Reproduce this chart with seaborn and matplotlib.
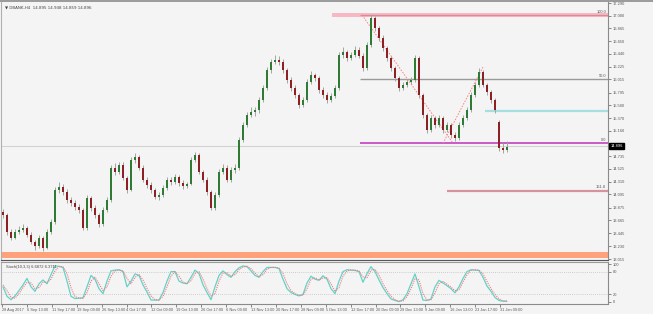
import numpy as np
import pandas as pd
import matplotlib
matplotlib.use("Agg")
import matplotlib.pyplot as plt
from matplotlib.patches import Rectangle
import seaborn as sns

# ---------------- data ----------------
opens = [13.80,13.75,13.47,13.37,13.47,13.50,13.53,13.42,13.30,13.23,
         13.37,13.20,13.47,13.63,14.17,14.22,14.13,14.00,13.95,13.88,
         13.83,13.53,14.03,13.87,13.75,13.60,13.83,14.00,14.54,14.47,
         14.59,14.37,14.17,14.67,14.72,14.54,14.34,14.25,14.17,14.05,
         14.09,14.20,14.34,14.30,14.39,14.29,14.23,14.27,14.67,14.75,
         14.47,14.34,14.13,13.87,14.09,14.47,14.54,14.34,14.50,14.54,
         15.00,15.25,15.42,15.47,15.50,15.67,15.87,16.17,16.31,16.34,
         16.31,16.17,16.00,15.87,15.75,15.59,15.67,15.97,16.09,16.04,
         15.84,15.75,15.67,15.74,15.87,16.42,16.47,16.37,16.42,16.51,
         16.41,16.20,16.59,17.04,16.87,16.71,16.54,16.37,16.20,16.04,
         15.87,15.92,15.97,16.00,16.37,15.75,15.42,15.17,15.37,15.25,
         15.37,15.17,15.25,15.09,15.04,15.25,15.37,15.50,15.75,15.92,
         16.14,15.92,15.80,15.67,15.30,14.87,14.84]
highs = [13.85,13.78,13.52,13.52,13.56,13.60,13.57,13.46,13.34,13.42,
         13.40,13.52,13.68,14.22,14.30,14.27,14.18,14.06,14.00,13.93,
         13.86,14.08,14.07,13.92,13.79,13.88,14.05,14.59,14.62,14.64,
         14.63,14.41,14.72,14.79,14.76,14.58,14.39,14.30,14.21,14.14,
         14.25,14.39,14.38,14.44,14.42,14.33,14.31,14.72,14.80,14.78,
         14.51,14.38,14.17,14.13,14.52,14.60,14.58,14.55,14.60,15.05,
         15.30,15.47,15.55,15.56,15.72,15.92,16.22,16.36,16.42,16.40,
         16.35,16.21,16.05,15.92,15.79,15.72,16.02,16.15,16.13,16.08,
         15.88,15.80,15.79,15.92,16.47,16.55,16.51,16.47,16.58,16.55,
         16.45,16.64,17.11,17.08,16.91,16.75,16.58,16.41,16.24,16.08,
         15.97,16.02,16.05,16.42,16.40,15.79,15.46,15.42,15.41,15.42,
         15.41,15.30,15.29,15.13,15.30,15.42,15.55,15.80,15.97,16.21,
         16.18,15.96,15.84,15.71,15.33,14.95,14.99]
lows = [13.70,13.42,13.33,13.35,13.43,13.46,13.38,13.26,13.17,13.20,
        13.15,13.18,13.44,13.60,14.12,14.08,13.95,13.90,13.83,13.78,
        13.50,13.50,13.82,13.70,13.55,13.57,13.80,13.97,14.42,14.44,
        14.33,14.12,14.15,14.62,14.50,14.30,14.20,14.12,14.01,14.00,
        14.06,14.17,14.26,14.27,14.24,14.19,14.20,14.25,14.63,14.43,
        14.30,14.09,13.83,13.84,14.06,14.43,14.30,14.31,14.46,14.51,
        14.97,15.22,15.38,15.40,15.46,15.63,15.84,16.13,16.27,16.26,
        16.12,15.95,15.82,15.70,15.54,15.56,15.64,15.93,15.99,15.79,
        15.70,15.62,15.64,15.71,15.84,16.38,16.33,16.34,16.39,16.37,
        16.15,16.17,16.56,16.82,16.66,16.49,16.32,16.15,15.99,15.82,
        15.84,15.89,15.94,15.97,15.70,15.37,15.12,15.14,15.20,15.22,
        15.12,15.14,15.04,14.98,15.01,15.22,15.34,15.47,15.72,15.89,
        15.88,15.76,15.62,15.45,14.82,14.78,14.80]
closes = [13.75,13.47,13.37,13.47,13.50,13.53,13.42,13.30,13.23,13.37,
          13.20,13.47,13.63,14.17,14.22,14.13,14.00,13.95,13.88,13.83,
          13.53,14.03,13.87,13.75,13.60,13.83,14.00,14.54,14.47,14.59,
          14.37,14.17,14.67,14.72,14.54,14.34,14.25,14.17,14.05,14.09,
          14.20,14.34,14.30,14.39,14.29,14.23,14.27,14.67,14.75,14.47,
          14.34,14.13,13.87,14.09,14.47,14.54,14.34,14.50,14.54,15.00,
          15.25,15.42,15.47,15.50,15.67,15.87,16.17,16.31,16.34,16.31,
          16.17,16.00,15.87,15.75,15.59,15.67,15.97,16.09,16.04,15.84,
          15.75,15.67,15.74,15.87,16.42,16.47,16.37,16.42,16.51,16.41,
          16.20,16.59,17.04,16.87,16.71,16.54,16.37,16.20,16.04,15.87,
          15.92,15.97,16.00,16.37,15.75,15.42,15.17,15.37,15.25,15.37,
          15.17,15.25,15.09,15.04,15.25,15.37,15.50,15.75,15.92,16.14,
          15.92,15.80,15.67,15.50,14.87,14.84,14.89]
stoch_k = [40,15,6,16,30,45,62,40,28,48,
           58,48,72,95,94,91,55,15,9,10,
           11,40,70,60,35,22,55,82,84,85,
           80,40,55,74,70,45,26,5,5,5,
           25,55,80,80,55,50,48,65,84,75,
           45,25,6,40,70,82,72,65,80,90,
           95,93,82,70,65,80,91,91,91,88,
           60,35,25,20,16,20,50,68,60,57,
           69,60,35,22,55,80,85,84,83,80,
           52,75,93,80,58,38,22,8,4,1,
           6,22,48,74,40,5,4,8,40,57,
           50,43,35,24,40,62,80,85,84,83,
           65,42,28,12,4,2,2]
stoch_d = [45,30,12,10,22,38,52,50,35,38,
           52,52,60,82,93,93,75,38,14,10,
           10,25,55,65,48,30,40,68,82,84,
           82,62,48,65,72,58,36,16,6,5,
           15,40,68,80,68,52,49,56,75,80,
           60,35,16,22,55,76,77,68,72,85,
           92,94,88,76,67,72,86,91,91,90,
           75,48,30,22,18,18,35,60,64,58,
           63,64,48,28,38,68,82,84,84,82,
           66,64,84,86,70,48,30,15,6,2,
           3,14,35,62,58,22,5,6,24,48,
           54,47,39,30,32,52,72,83,85,84,
           74,54,35,20,8,3,2]
date_labels = ["28 Aug 2017", "6 Sep 13:00", "11 Sep 17:00", "19 Sep 09:00", "26 Sep 13:00",
               "4 Oct 17:00", "12 Oct 09:00", "19 Oct 13:00", "26 Oct 17:00", "6 Nov 09:00",
               "13 Nov 13:00", "20 Nov 17:00", "28 Nov 09:00", "5 Dec 13:00", "12 Dec 17:00",
               "20 Dec 09:00", "29 Dec 13:00", "9 Jan 09:00", "16 Jan 13:00", "23 Jan 17:00",
               "31 Jan 09:00"]
price_ticks = [17.290, 17.080, 16.865, 16.650, 16.440, 16.225, 16.015, 15.795, 15.580,
               15.370, 15.160, 14.950, 14.735, 14.525, 14.310, 14.095, 13.875, 13.665,
               13.445, 13.230, 13.015]
stoch_ticks = [0, 20, 80, 100]
fib_names = ["100.0", "50.0", "0.0", "161.8"]
fib_prices = [17.09, 16.02, 14.95, 14.16]
current_price = 14.896
cyan_level = 15.49
pink_zone = [17.05, 17.12]
orange_zone = [13.03, 13.13]
title_text = "\u25bc DBANK,H4  14.895 14.948 14.859 14.896"
stoch_text = "Stoch(10,3,3) 6.6872 6.3711"

# ---------------- figure ----------------
sns.set_theme(style="white")
plt.rcParams["font.family"] = ["Liberation Sans", "DejaVu Sans"]
BG = "#f4f4f4"
TXT = "#5a5a5a"
FS = 2.9
W, H = 653, 314
fig = plt.figure(figsize=(W / 100, H / 100), dpi=100, facecolor=BG)

ax = fig.add_axes([1 / W, 1 - 260 / H, 607 / W, 258 / H], facecolor=BG)
ax2 = fig.add_axes([1 / W, 1 - 304 / H, 607 / W, 42 / H], facecolor=BG)

n = len(closes)
idx = np.arange(n)
df = pd.DataFrame({"i": idx, "o": opens, "h": highs, "l": lows, "c": closes,
                   "k": stoch_k, "d": stoch_d})

xmin, xmax = -0.5, 151.25
ax.set_xlim(xmin, xmax)
ax2.set_xlim(xmin, xmax)
ax.set_ylim(13.000, 17.307)
ax2.set_ylim(-5.3, 105.3)

# zones / levels
ax.add_patch(Rectangle((82.25, pink_zone[0]), xmax - 82.25, pink_zone[1] - pink_zone[0],
                       facecolor="#f7b8c4", edgecolor="none", zorder=1))
ax.add_patch(Rectangle((xmin, orange_zone[0]), xmax - xmin, orange_zone[1] - orange_zone[0],
                       facecolor="#ffa27c", edgecolor="none", zorder=1))
ax.axhline(current_price, color="#d2d2d2", lw=0.8, zorder=1)
fib_colors = ["#d98a98", "#9a9a9a", "#c23fc2", "#d4939d"]
fib_starts = [89.25, 89.25, 89.25, 111.0]
fib_lws = [0.9, 1.0, 1.2, 1.6]
for nm, p, c, s, lw in zip(fib_names, fib_prices, fib_colors, fib_starts, fib_lws):
    ax.hlines(p, s, xmax, color=c, lw=lw, zorder=2)
    ax.text(150.8, p + 0.025, nm, fontsize=FS, color=TXT, ha="right", va="bottom", zorder=5)
ax.hlines(cyan_level, 120.5, xmax, color="#a6dfe2", lw=1.6, zorder=2)

# fib zigzag dotted
ax.plot([89.75, 112.5], [fib_prices[0], fib_prices[2]], color="#ff7f7f", lw=0.7, ls=(0, (1.5, 1.5)), zorder=2)
ax.plot([110.0, 120.0], [fib_prices[2], 16.22], color="#ff7f7f", lw=0.7, ls=(0, (1.5, 1.5)), zorder=2)

# candles
up = df["c"] >= df["o"]
ax.vlines(df["i"], df["l"], df["h"], color="#a4a4a4", lw=0.7, zorder=3)
body_bottom = np.minimum(df["o"], df["c"])
body_h = np.maximum(np.abs(df["c"] - df["o"]), 0.012)
ax.bar(df["i"], body_h, bottom=body_bottom, width=0.45,
       color=np.where(up, "#2f7a35", "#8e1f22"), edgecolor="none", zorder=4)

# stochastic
sns.lineplot(data=df, x="i", y="k", ax=ax2, color="#63d2c9", lw=0.9, zorder=3)
sns.lineplot(data=df, x="i", y="d", ax=ax2, color="#f07a7a", lw=0.8, ls=(0, (1, 1)), zorder=4)
for lv in (20, 80):
    ax2.axhline(lv, color="#a8a8a8", lw=0.5, ls=(0, (1, 2)), zorder=1)
ax2.set_xlabel("")
ax2.set_ylabel("")

# axes styling
for a in (ax, ax2):
    for sp in a.spines.values():
        sp.set_linewidth(0.8)
    a.spines["left"].set_color("#b0b0b0")
    a.spines["right"].set_color("#8a8a8a")
    a.spines["top"].set_visible(False)
ax.spines["bottom"].set_color("#555555")
ax2.spines["top"].set_visible(True)
ax2.spines["top"].set_color("#9a9a9a")
ax2.spines["bottom"].set_color("#8a8a8a")

ax.yaxis.tick_right()
ax.set_yticks(price_ticks)
# the 14.950 label sits under the current-price box, as in the terminal
ax.set_yticklabels(["" if abs(v - 14.950) < 1e-6 else f"{v:.3f}" for v in price_ticks])
ax.tick_params(axis="y", which="both", right=True, length=2, width=0.5, pad=1.5,
               labelsize=FS, colors=TXT)
ax.set_xticks([])

ax2.yaxis.tick_right()
ax2.set_yticks(stoch_ticks)
ax2.set_yticklabels([str(v) for v in stoch_ticks])
ax2.tick_params(axis="y", right=True, length=2, width=0.5, pad=1.5, labelsize=FS, colors=TXT)

xpos = np.arange(len(date_labels)) * 6.225 - 0.25
ax2.set_xticks(xpos)
ax2.set_xticklabels(date_labels)
ax2.tick_params(axis="x", bottom=True, length=2, width=0.5, pad=1.2, labelsize=2.75, colors=TXT)
for lab in ax2.get_xticklabels():
    lab.set_ha("left")

# current price box
ax.text(1.004, current_price, f"{current_price:.3f}", transform=ax.get_yaxis_transform(),
        fontsize=FS, color="white", ha="left", va="center", zorder=10,
        bbox=dict(boxstyle="square,pad=0.25", facecolor="black", edgecolor="black"), clip_on=False)

# titles
ax.text(0.006, 0.985, title_text, transform=ax.transAxes, fontsize=FS,
        color="#444444", ha="left", va="top", family=["DejaVu Sans"])
ax2.text(0.008, 0.92, stoch_text, transform=ax2.transAxes, fontsize=FS, color="#444444",
         ha="left", va="top")

# top gray bar
fig.patches.append(Rectangle((0, 1 - 2 / H), 1, 2 / H, transform=fig.transFigure,
                             facecolor="#9c9c9c", edgecolor="none"))

fig.savefig("out.png", dpi=100, facecolor=BG)
